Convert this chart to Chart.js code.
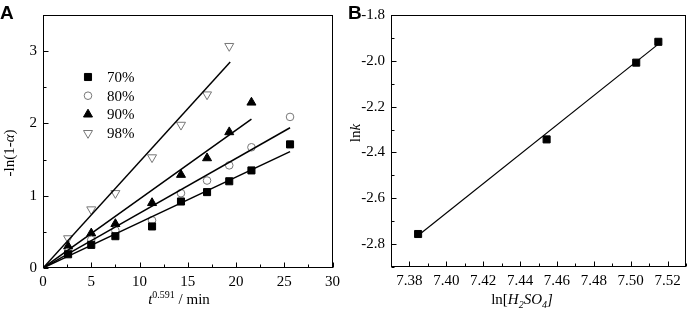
<!DOCTYPE html>
<html>
<head>
<meta charset="utf-8">
<script src="https://cdn.jsdelivr.net/npm/chart.js@4/dist/chart.umd.min.js"></script>
<style>
  body { margin: 0; background: #fff; }
  #wrapA { position: absolute; left: 0; top: 0; width: 345px; height: 316px; }
  #wrapB { position: absolute; left: 345px; top: 0; width: 347px; height: 316px; }
</style>
</head>
<body>
<div id="wrapA"><canvas id="chartA" width="345" height="316"></canvas></div>
<div id="wrapB"><canvas id="chartB" width="347" height="316"></canvas></div>
<script>
// ---- panel A data: t^0.591 vs -ln(1-a) ----
const seriesNames = ["70%", "80%", "90%", "98%"];
const tA = [2.6, 5.0, 7.5, 11.3, 14.3, 17.0, 19.3, 21.6, 25.6];
const y70 = [0.19, 0.32, 0.44, 0.575, 0.92, 1.05, 1.20, 1.35, 1.71];
const y80 = [0.22, 0.39, 0.52, 0.66, 1.035, 1.21, 1.42, 1.67, 2.09];
const y90 = [0.30, 0.48, 0.61, 0.90, 1.29, 1.52, 1.88, 2.29];
const y98 = [0.41, 0.81, 1.035, 1.53, 1.98, 2.40, 3.07];
// end points of the fitted lines (all start at 0,0)
const fitEndX = [25.6, 25.6, 21.6, 19.4];
const fitEndY = [1.61, 1.94, 2.06, 2.85];

const xTicksA = [0, 5, 10, 15, 20, 25, 30];
const xMinorA = [2.5, 7.5, 12.5, 17.5, 22.5, 27.5];
const yTicksA = [0, 1, 2, 3];
const yMinorA = [0.5, 1.5, 2.5, 3.5];

// ---- panel B data: ln[H2SO4] vs lnk ----
const lnAcid = [7.3847, 7.4544, 7.503, 7.515];
const lnK = [-2.756, -2.343, -2.008, -1.917];
const fitB = [[7.3859, -2.755], [7.515, -1.927]];

const xTicksB = [7.38, 7.40, 7.42, 7.44, 7.46, 7.48, 7.50, 7.52];
const xMinorB = [7.37, 7.39, 7.41, 7.43, 7.45, 7.47, 7.49, 7.51, 7.53];
const yTicksB = [-2.8, -2.6, -2.4, -2.2, -2.0, -1.8];
const yMinorB = [-2.9, -2.7, -2.5, -2.3, -2.1, -1.9];

const serif = "'Liberation Serif', 'DejaVu Serif', serif";
Chart.defaults.font.family = serif;
Chart.defaults.color = "#000";

// draws a row of text pieces (italic, superscript, subscript) centred on cx, cy
function richText(ctx, parts, cx, cy, rotate) {
  ctx.save();
  ctx.translate(cx, cy);
  if (rotate) ctx.rotate(-Math.PI / 2);
  ctx.textBaseline = "alphabetic";
  ctx.textAlign = "left";
  let w = 0;
  parts.forEach(p => { ctx.font = p.font; w += ctx.measureText(p.t).width; });
  let x = -w / 2;
  parts.forEach(p => {
    ctx.font = p.font;
    ctx.fillStyle = "#000";
    ctx.fillText(p.t, x, 5 + (p.dy || 0));
    x += ctx.measureText(p.t).width;
  });
  ctx.restore();
}

function marker(ctx, style, x, y) {
  ctx.save();
  ctx.lineWidth = 1;
  ctx.strokeStyle = style.stroke;
  ctx.fillStyle = style.fill;
  ctx.beginPath();
  const r = style.r;
  if (style.shape === "rect") {
    const s = Math.SQRT1_2 * r;
    ctx.rect(x - s, y - s, 2 * s, 2 * s);
  } else if (style.shape === "circle") {
    ctx.arc(x, y, r, 0, Math.PI * 2);
  } else if (style.shape === "up") {
    ctx.moveTo(x, y - r);
    ctx.lineTo(x + r * 0.866, y + r * 0.5);
    ctx.lineTo(x - r * 0.866, y + r * 0.5);
    ctx.closePath();
  } else {
    ctx.moveTo(x, y + r);
    ctx.lineTo(x + r * 0.866, y - r * 0.5);
    ctx.lineTo(x - r * 0.866, y - r * 0.5);
    ctx.closePath();
  }
  ctx.fill();
  ctx.stroke();
  ctx.restore();
}

// frame, inward ticks, axis titles, panel letter, legend
const decor = {
  id: "decor",
  afterDraw(chart, args, o) {
    const { ctx, chartArea: a, scales: { x, y } } = chart;
    ctx.save();
    ctx.strokeStyle = "#000";
    ctx.lineWidth = 1;
    ctx.strokeRect(Math.round(a.left) + 0.5, Math.round(a.top) + 0.5,
      Math.round(a.width) - 1, Math.round(a.height) - 1);
    const tick = (x1, y1, x2, y2) => {
      ctx.beginPath(); ctx.moveTo(x1, y1); ctx.lineTo(x2, y2); ctx.stroke();
    };
    const b = Math.round(a.bottom) - 0.5, l = Math.round(a.left) + 0.5;
    o.xMajor.forEach(v => { const p = Math.round(x.getPixelForValue(v)) + 0.5; tick(p, b, p, b - 5); });
    o.xMinor.forEach(v => { const p = Math.round(x.getPixelForValue(v)) + 0.5; tick(p, b, p, b - 3); });
    o.yMajor.forEach(v => { const p = Math.round(y.getPixelForValue(v)) + 0.5; tick(l, p, l + 5, p); });
    o.yMinor.forEach(v => { const p = Math.round(y.getPixelForValue(v)) + 0.5; tick(l, p, l + 3, p); });
    ctx.restore();

    richText(ctx, o.xTitle, o.xTitlePos[0], o.xTitlePos[1], false);
    richText(ctx, o.yTitle, o.yTitlePos[0], o.yTitlePos[1], true);

    ctx.save();
    ctx.font = "bold 19px 'Liberation Sans', Arial, sans-serif";
    ctx.fillStyle = "#000";
    ctx.textBaseline = "alphabetic";
    ctx.fillText(o.letter, o.letterPos[0], o.letterPos[1]);
    ctx.restore();

    if (o.legend) {
      ctx.save();
      ctx.font = "15px " + serif;
      ctx.textBaseline = "middle";
      o.legend.forEach((item, i) => {
        const ly = o.legendPos[1] + i * 18.7;
        marker(ctx, item.style, o.legendPos[0], ly);
        ctx.fillStyle = "#000";
        ctx.fillText(item.name, o.legendPos[0] + 19, ly + 1);
      });
      ctx.restore();
    }
  }
};

const it = "italic 15px " + serif;
const rm = "15px " + serif;
const sm = "10px " + serif;
const smi = "italic 10px " + serif;

const styles = [
  { shape: "rect", r: 5, fill: "#000", stroke: "#000" },
  { shape: "circle", r: 3.8, fill: "#fff", stroke: "#777" },
  { shape: "up", r: 5.2, fill: "#000", stroke: "#000" },
  { shape: "down", r: 5.2, fill: "#fff", stroke: "#777" }
];
const pointOpts = [
  { pointStyle: "rect", pointRadius: 5, pointBackgroundColor: "#000", pointBorderColor: "#000" },
  { pointStyle: "circle", pointRadius: 3.8, pointBackgroundColor: "#fff", pointBorderColor: "#777" },
  { pointStyle: "triangle", pointRadius: 5.2, pointBackgroundColor: "#000", pointBorderColor: "#000" },
  { pointStyle: "triangle", pointRadius: 5.2, pointRotation: 180, pointBackgroundColor: "#fff", pointBorderColor: "#777" }
];

function setTicks(list) {
  return function (scale) { scale.ticks = list.map(v => ({ value: v })); };
}

// ---- chart A ----
const seriesA = [y70, y80, y90, y98];
const datasetsA = [];
seriesA.forEach((ys, i) => {
  datasetsA.push({
    label: seriesNames[i] + " fit",
    data: [{ x: 0, y: 0 }, { x: fitEndX[i], y: fitEndY[i] }],
    showLine: true, borderColor: "#000", borderWidth: 1.5, pointRadius: 0
  });
});
seriesA.forEach((ys, i) => {
  datasetsA.push(Object.assign({
    label: seriesNames[i],
    data: ys.map((v, k) => ({ x: tA[k], y: v })),
    showLine: false, pointBorderWidth: 1
  }, pointOpts[i]));
});

new Chart(document.getElementById("chartA"), {
  type: "scatter",
  data: { datasets: datasetsA },
  options: {
    responsive: false,
    animation: false,
    layout: { padding: { top: 5, right: 9, left: 0, bottom: 0 } },
    scales: {
      x: {
        min: 0, max: 30,
        afterBuildTicks: setTicks(xTicksA),
        afterFit(s) { s.height = 48; },
        grid: { display: false, drawTicks: false },
        border: { display: false },
        ticks: { font: { size: 15 }, padding: 5, maxRotation: 0 }
      },
      y: {
        min: 0, max: 3.5,
        afterBuildTicks: setTicks(yTicksA),
        afterFit(s) { s.width = 43; },
        grid: { display: false, drawTicks: false },
        border: { display: false },
        ticks: { font: { size: 15 }, padding: 6 }
      }
    },
    plugins: {
      legend: { display: false },
      tooltip: { enabled: false },
      decor: {
        xMajor: xTicksA, xMinor: xMinorA, yMajor: yTicksA, yMinor: yMinorA,
        xTitle: [{ t: "t", font: it }, { t: "0.591", font: sm, dy: -6 }, { t: " / min", font: rm }],
        xTitlePos: [179, 299],
        yTitle: [{ t: "-ln(1-", font: rm }, { t: "\u03b1", font: it }, { t: ")", font: rm }],
        yTitlePos: [9, 153],
        letter: "A", letterPos: [0, 19],
        legend: seriesNames.map((n, i) => ({ name: n, style: styles[i] })),
        legendPos: [88, 77]
      }
    }
  },
  plugins: [decor]
});

// ---- chart B ----
new Chart(document.getElementById("chartB"), {
  type: "scatter",
  data: {
    datasets: [
      {
        label: "fit",
        data: fitB.map(p => ({ x: p[0], y: p[1] })),
        showLine: true, borderColor: "#000", borderWidth: 1.2, pointRadius: 0
      },
      {
        label: "lnk",
        data: lnAcid.map((v, k) => ({ x: v, y: lnK[k] })),
        showLine: false, pointStyle: "rect", pointRadius: 5,
        pointBackgroundColor: "#000", pointBorderColor: "#000", pointBorderWidth: 1
      }
    ]
  },
  options: {
    responsive: false,
    animation: false,
    layout: { padding: { top: 8, right: 2, left: 0, bottom: 0 } },
    scales: {
      x: {
        min: 7.37, max: 7.53,
        afterBuildTicks: setTicks(xTicksB),
        afterFit(s) { s.height = 49; },
        grid: { display: false, drawTicks: false },
        border: { display: false },
        ticks: { font: { size: 15 }, padding: 5, maxRotation: 0, callback: v => v.toFixed(2) }
      },
      y: {
        min: -2.9, max: -1.8,
        afterBuildTicks: setTicks(yTicksB),
        afterFit(s) { s.width = 46; },
        grid: { display: false, drawTicks: false },
        border: { display: false },
        ticks: { font: { size: 15 }, padding: 6, callback: v => v.toFixed(1) }
      }
    },
    plugins: {
      legend: { display: false },
      tooltip: { enabled: false },
      decor: {
        xMajor: xTicksB, xMinor: xMinorB, yMajor: yTicksB, yMinor: yMinorB,
        xTitle: [{ t: "ln[", font: rm }, { t: "H", font: it }, { t: "2", font: smi, dy: 4 },
                 { t: "SO", font: it }, { t: "4", font: smi, dy: 4 }, { t: "]", font: it }],
        xTitlePos: [177, 299],
        yTitle: [{ t: "ln", font: rm }, { t: "k", font: it }],
        yTitlePos: [10, 133],
        letter: "B", letterPos: [3, 19]
      }
    }
  },
  plugins: [decor]
});
</script>
</body>
</html>
